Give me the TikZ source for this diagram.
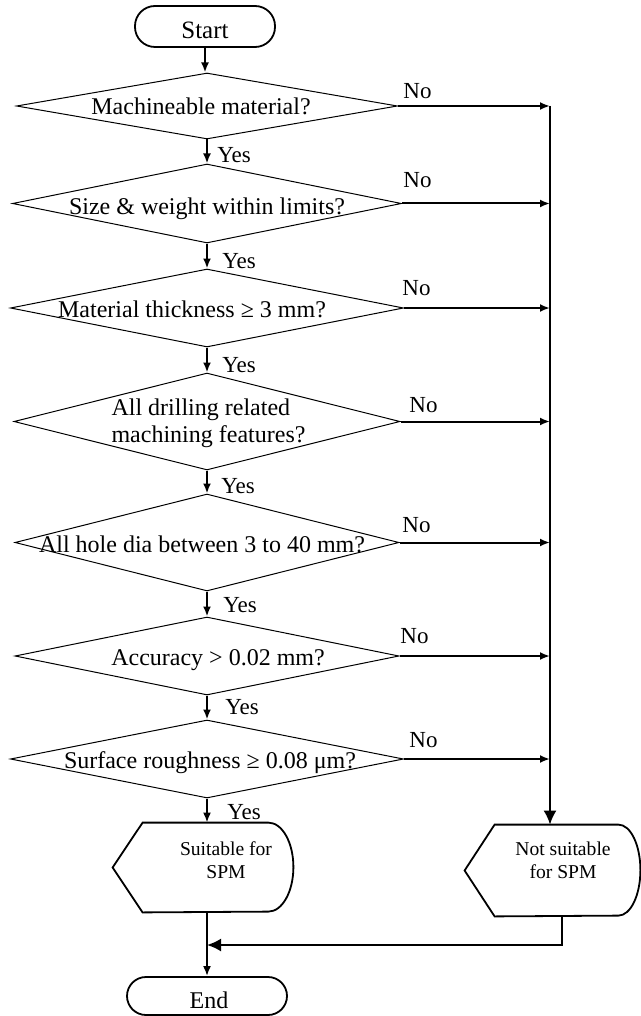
\documentclass[tikz,border=0pt]{standalone}
\usepackage{fontspec}
\setmainfont{Liberation Serif}
\usetikzlibrary{shapes.geometric,arrows.meta}
\begin{document}
\begin{tikzpicture}[x=0.5pt,y=-0.5pt,
  dia/.style={diamond, draw, line width=0.5pt, inner sep=0pt},
  txt/.style={font=\fontsize{12}{13.5}\selectfont, inner sep=0pt, anchor=base},
  lab/.style={font=\fontsize{11.5}{13}\selectfont, inner sep=0pt, anchor=base west},
  term/.style={draw, line width=0.9pt, inner sep=0pt},
  box/.style={inner sep=0pt, draw=none},
  conn/.style={line width=1pt},
  arr/.style={conn, -{Latex[length=5pt,width=4pt]}},
  bigarr/.style={conn, -{Latex[length=7pt,width=6.5pt]}},
  disp/.style={line width=0.9pt},
  dtxt/.style={font=\fontsize{9.8}{11.5}\selectfont, align=center, inner sep=0pt}
]
\useasboundingbox (0,0) rectangle (641,1016);

% terminals
\node[term, minimum width=70pt, minimum height=20.5pt, rounded corners=10pt] (start) at (205,26.5) {};
\node[txt, font=\fontsize{12.5}{14}\selectfont] (tstart) at (205,39) {Start};
\node[term, minimum width=80pt, minimum height=19pt, rounded corners=9.5pt] (End) at (207,996) {};
\node[txt] (tend) at (209,1008) {End};

% decisions
\node[dia, minimum width=190.5pt, minimum height=33pt]   (d1) at (207,106)   {};
\node[dia, minimum width=194.5pt, minimum height=39.5pt] (d2) at (207,203.5) {};
\node[dia, minimum width=196.5pt, minimum height=39pt]   (d3) at (207,308)   {};
\node[dia, minimum width=193pt,   minimum height=48.5pt] (d4) at (207,421.5) {};
\node[dia, minimum width=192pt,   minimum height=48.5pt] (d5) at (207,542.5) {};
\node[dia, minimum width=192pt,   minimum height=39pt]   (d6) at (207,656)   {};
\node[dia, minimum width=196.5pt, minimum height=39pt]   (d7) at (207,759)   {};

\node[txt] (t1) at (201,115) {Machineable material?};
\node[txt] (t2) at (207,214) {Size \& weight within limits?};
\node[txt] (t3) at (192,317) {Material thickness \symbol{"2265} 3 mm?};
\node[font=\fontsize{12}{13.5}\selectfont, inner sep=0pt, align=left] (t4) at (208.5,423) {All drilling related\\machining features?};
\node[txt] (t5) at (202,552) {All hole dia between 3 to 40 mm?};
\node[txt] (t6) at (218,665) {Accuracy > 0.02 mm?};
\node[txt] (t7) at (210,768) {Surface roughness \symbol{"2265} 0.08 \symbol{"03BC}m?};

% display shapes
\node[box, minimum width=90pt, minimum height=44.5pt] (S) at (203,867.5) {};
\draw[disp] (S.west) -- ([xshift=15pt]S.north west) -- ([xshift=-12.5pt]S.north east)
  arc[start angle=90, end angle=-90, x radius=12.5pt, y radius=22.25pt]
  -- ([xshift=15pt]S.south west) -- cycle;
\node[dtxt] (tS) at (226,860) {Suitable for\\SPM};

\node[box, minimum width=87.5pt, minimum height=45.5pt] (NS) at (552.5,870.5) {};
\draw[disp] (NS.west) -- ([xshift=15pt]NS.north west) -- ([xshift=-11pt]NS.north east)
  arc[start angle=90, end angle=-90, x radius=11pt, y radius=22.75pt]
  -- ([xshift=15pt]NS.south west) -- cycle;
\node[dtxt] (tNS) at (563,860.5) {Not suitable\\for SPM};

% Yes connectors
\draw[arr] (start.south) -- (start.south |- d1.north);
\draw[arr] (d1.south) -- (d2.north);
\draw[arr] (d2.south) -- (d3.north);
\draw[arr] (d3.south) -- (d4.north);
\draw[arr] (d4.south) -- (d5.north);
\draw[arr] (d5.south) -- (d6.north);
\draw[arr] (d6.south) -- (d7.north);
\draw[arr] (d7.south) -- (d7.south |- S.north);

\node[lab] (y1) at (217,163) {Yes};
\node[lab] (y2) at (222,268) {Yes};
\node[lab] (y3) at (222,372) {Yes};
\node[lab] (y4) at (221,493) {Yes};
\node[lab] (y5) at (223,612) {Yes};
\node[lab] (y6) at (225,714) {Yes};
\node[lab] (y7) at (227,819) {Yes};

% No connectors
\coordinate (top) at (550,106);
\draw[arr] (d1.east) -- (top);
\draw[bigarr] (top) -- (top |- NS.north);
\draw[arr] (d2.east) -- (d2.east -| top);
\draw[arr] (d3.east) -- (d3.east -| top);
\draw[arr] (d4.east) -- (d4.east -| top);
\draw[arr] (d5.east) -- (d5.east -| top);
\draw[arr] (d6.east) -- (d6.east -| top);
\draw[arr] (d7.east) -- (d7.east -| top);

\node[lab] (n1) at (403,99) {No};
\node[lab] (n2) at (403,188) {No};
\node[lab] (n3) at (402,295) {No};
\node[lab] (n4) at (409,412) {No};
\node[lab] (n5) at (402,532) {No};
\node[lab] (n6) at (400,643) {No};
\node[lab] (n7) at (409,747) {No};

% bottom
\coordinate (J) at (207,945);
\draw[arr] (S.south -| End.north) -- (End.north);
\draw[bigarr] ([xshift=4.75pt]NS.south) |- (J);
\end{tikzpicture}
\end{document}
